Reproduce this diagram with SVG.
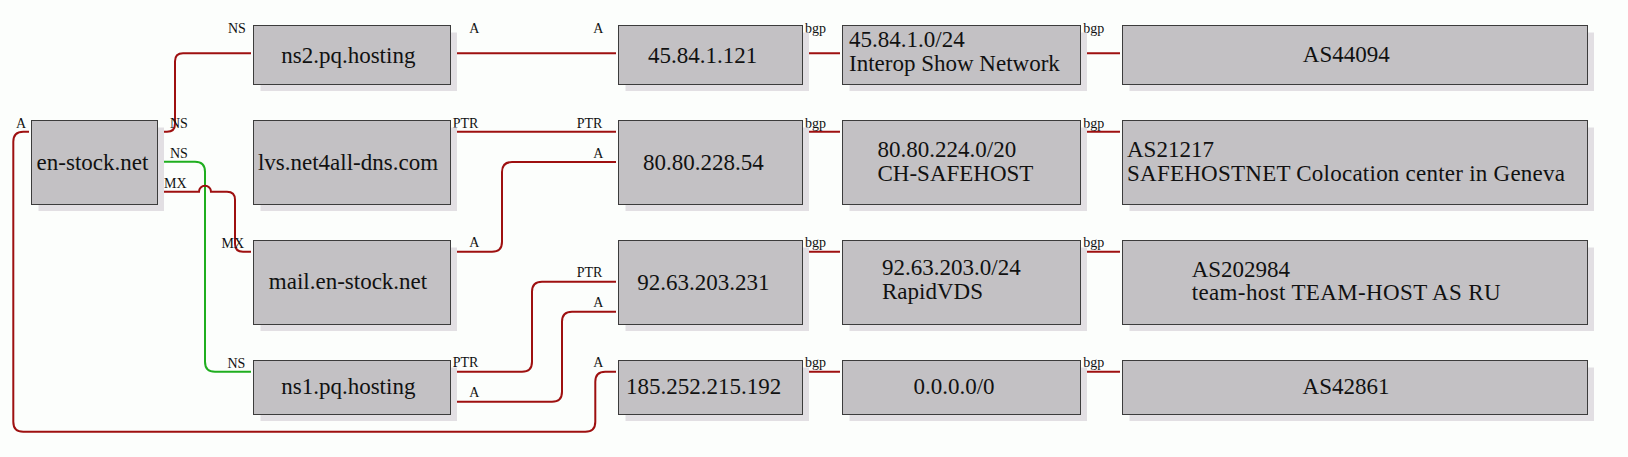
<svg xmlns="http://www.w3.org/2000/svg" width="1628" height="457" viewBox="0 0 1628 457">
<style>
.bg{fill:#fcfefc}
.sh{fill:#e2dfe3}
.bx{fill:#c3c1c4;stroke:#3c3c3c;stroke-width:1}
.t{font-family:'Liberation Serif',serif;font-size:23px;fill:#111}
.m{text-anchor:middle}
.l{font-family:'Liberation Serif',serif;font-size:14px;fill:#111}
.e{fill:none;stroke:#9e1010;stroke-width:2}
.g{fill:none;stroke:#1fae1f;stroke-width:2}
</style>
<rect class="bg" x="0" y="0" width="1628" height="457"/>
<g id="connectors">
<path class="e" d="M160 131.7 H167 Q175 131.7 175 123.7 V61.3 Q175 53.3 183 53.3 H251"/>
<path class="g" d="M160 161.7 H195 Q205 161.7 205 171.7 V361.7 Q205 371.7 215 371.7 H251"/>
<path class="e" d="M160 191.7 H199 A6 6 0 0 1 211 191.7 H227 Q235 191.7 235 199.7 V243.7 Q235 251.7 243 251.7 H251"/>
<path class="e" d="M29 131.7 H23.3 Q13.3 131.7 13.3 141.7 V421.7 Q13.3 431.7 23.3 431.7 H585.3 Q595.3 431.7 595.3 421.7 V381.7 Q595.3 371.7 605.3 371.7 H616"/>
<path class="e" d="M452.7 53.3 H616"/>
<path class="e" d="M452.7 131.7 H616"/>
<path class="e" d="M452.7 251.7 H492 Q502 251.7 502 241.7 V172 Q502 162 512 162 H616"/>
<path class="e" d="M452.7 371.7 H522 Q532 371.7 532 361.7 V291.7 Q532 281.7 542 281.7 H616"/>
<path class="e" d="M452.7 401.7 H552 Q562 401.7 562 391.7 V321.7 Q562 311.7 572 311.7 H616"/>
<path class="e" d="M805 53.3 H840 M805 131.7 H840 M805 251.7 H840 M805 371.7 H840"/>
<path class="e" d="M1083 53.3 H1120 M1083 131.7 H1120 M1083 251.7 H1120 M1083 371.7 H1120"/>
<text class="l" x="228" y="32.5">NS</text>
<text class="l" x="170" y="127.5">NS</text>
<text class="l" x="170" y="157.5">NS</text>
<text class="l" x="164" y="187.5">MX</text>
<text class="l" x="221.5" y="247.5">MX</text>
<text class="l" x="227.5" y="368">NS</text>
<text class="l" x="16" y="128">A</text>
<text class="l" x="469.3" y="32.7">A</text>
<text class="l" x="593.3" y="32.7">A</text>
<text class="l" x="452.7" y="128">PTR</text>
<text class="l" x="576.7" y="128">PTR</text>
<text class="l" x="593.3" y="158.3">A</text>
<text class="l" x="469.3" y="247.3">A</text>
<text class="l" x="576.7" y="277.3">PTR</text>
<text class="l" x="593.3" y="307.3">A</text>
<text class="l" x="452.7" y="367.3">PTR</text>
<text class="l" x="469.3" y="397.3">A</text>
<text class="l" x="593.3" y="367.3">A</text>
<text class="l" x="805" y="32.7">bgp</text>
<text class="l" x="805" y="128">bgp</text>
<text class="l" x="805" y="247.3">bgp</text>
<text class="l" x="805" y="367.3">bgp</text>
<text class="l" x="1083.3" y="32.7">bgp</text>
<text class="l" x="1083.3" y="128">bgp</text>
<text class="l" x="1083.3" y="247.3">bgp</text>
<text class="l" x="1083.3" y="367.3">bgp</text>
</g>
<g id="n-en-stock">
<rect class="sh" x="38.5" y="127.5" width="125.5" height="83.5"/>
<rect class="bx" x="31.5" y="120.5" width="126" height="84"/>
<text class="t m" x="92.5" y="170">en-stock.net</text>
</g>
<g id="n-ns2">
<rect class="sh" x="260.5" y="32.5" width="196.5" height="58.5"/>
<rect class="bx" x="253.5" y="25.5" width="197" height="59"/>
<text class="t m" x="348.3" y="62.5">ns2.pq.hosting</text>
</g>
<g id="n-lvs">
<rect class="sh" x="260.5" y="127.5" width="196.5" height="83.5"/>
<rect class="bx" x="253.5" y="120.5" width="197" height="84"/>
<text class="t m" x="348" y="170">lvs.net4all-dns.com</text>
</g>
<g id="n-mail">
<rect class="sh" x="260.5" y="247.5" width="196.5" height="83.5"/>
<rect class="bx" x="253.5" y="240.5" width="197" height="84"/>
<text class="t m" x="348" y="289.3">mail.en-stock.net</text>
</g>
<g id="n-ns1">
<rect class="sh" x="260.5" y="367.5" width="196.5" height="53.5"/>
<rect class="bx" x="253.5" y="360.5" width="197" height="54"/>
<text class="t m" x="348.3" y="394">ns1.pq.hosting</text>
</g>
<g id="n-ip1">
<rect class="sh" x="625.5" y="32.5" width="183.5" height="58.5"/>
<rect class="bx" x="618.5" y="25.5" width="184" height="59"/>
<text class="t m" x="702.7" y="62.7">45.84.1.121</text>
</g>
<g id="n-ip2">
<rect class="sh" x="625.5" y="127.5" width="183.5" height="83.5"/>
<rect class="bx" x="618.5" y="120.5" width="184" height="84"/>
<text class="t m" x="703.3" y="170">80.80.228.54</text>
</g>
<g id="n-ip3">
<rect class="sh" x="625.5" y="247.5" width="183.5" height="83.5"/>
<rect class="bx" x="618.5" y="240.5" width="184" height="84"/>
<text class="t m" x="703.3" y="290">92.63.203.231</text>
</g>
<g id="n-ip4">
<rect class="sh" x="625.5" y="367.5" width="183.5" height="53.5"/>
<rect class="bx" x="618.5" y="360.5" width="184" height="54"/>
<text class="t m" x="703.5" y="394">185.252.215.192</text>
</g>
<g id="n-pfx1">
<rect class="sh" x="849.5" y="32.5" width="237.5" height="58.5"/>
<rect class="bx" x="842.5" y="25.5" width="238" height="59"/>
<text class="t" x="849" y="46.7">45.84.1.0/24</text>
<text class="t" x="849" y="70.7">Interop Show Network</text>
</g>
<g id="n-pfx2">
<rect class="sh" x="849.5" y="127.5" width="237.5" height="83.5"/>
<rect class="bx" x="842.5" y="120.5" width="238" height="84"/>
<text class="t" x="877.5" y="156.7">80.80.224.0/20</text>
<text class="t" x="877.5" y="181">CH-SAFEHOST</text>
</g>
<g id="n-pfx3">
<rect class="sh" x="849.5" y="247.5" width="237.5" height="83.5"/>
<rect class="bx" x="842.5" y="240.5" width="238" height="84"/>
<text class="t" x="882" y="275">92.63.203.0/24</text>
<text class="t" x="882" y="299">RapidVDS</text>
</g>
<g id="n-pfx4">
<rect class="sh" x="849.5" y="367.5" width="237.5" height="53.5"/>
<rect class="bx" x="842.5" y="360.5" width="238" height="54"/>
<text class="t m" x="954" y="394.3">0.0.0.0/0</text>
</g>
<g id="n-as1">
<rect class="sh" x="1129.5" y="32.5" width="464.5" height="58.5"/>
<rect class="bx" x="1122.5" y="25.5" width="465" height="59"/>
<text class="t m" x="1346.3" y="61.7">AS44094</text>
</g>
<g id="n-as2">
<rect class="sh" x="1129.5" y="127.5" width="464.5" height="83.5"/>
<rect class="bx" x="1122.5" y="120.5" width="465" height="84"/>
<text class="t" x="1127" y="156.7">AS21217</text>
<text class="t" x="1127" y="181" textLength="438" lengthAdjust="spacing">SAFEHOSTNET Colocation center in Geneva</text>
</g>
<g id="n-as3">
<rect class="sh" x="1129.5" y="247.5" width="464.5" height="83.5"/>
<rect class="bx" x="1122.5" y="240.5" width="465" height="84"/>
<text class="t" x="1191.7" y="276.7">AS202984</text>
<text class="t" x="1191.7" y="300" textLength="309" lengthAdjust="spacing">team-host TEAM-HOST AS RU</text>
</g>
<g id="n-as4">
<rect class="sh" x="1129.5" y="367.5" width="464.5" height="53.5"/>
<rect class="bx" x="1122.5" y="360.5" width="465" height="54"/>
<text class="t m" x="1346" y="394.3">AS42861</text>
</g>
</svg>
